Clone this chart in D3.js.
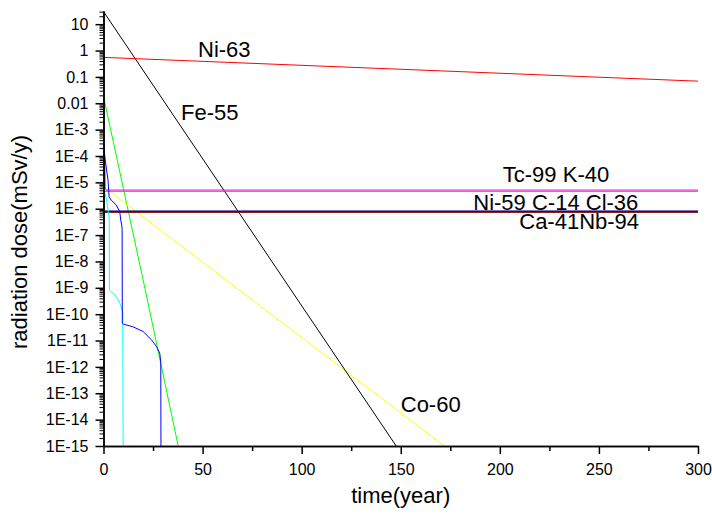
<!DOCTYPE html>
<head>
<meta charset="utf-8">
</head>
<style>
  body { margin: 0; background: #fff; }
  svg { font-family: Arial, "Liberation Sans", sans-serif; }
  .axis path, .axis line { fill: none; stroke: #000; }
  .axis text { font-size: 16px; fill: #000; }
  .label { font-size: 22px; fill: #000; }
  .series { fill: none; stroke-width: 1; }
</style>
<body>
<script src="https://d3js.org/d3.v7.min.js"></script>
<script>

// --- data: [year, dose mSv/y] ---
var fe55 = [[0, 30], [147.7, 1e-15]]
var ni63 = [[0, 0.55], [300, 0.069]]
var unlabeledGreen = [[0, 0.018], [20, 2e-9], [37.7, 1e-15]]
var co60 = [[0, 6.8e-6], [172, 1e-15]]
var tc99 = [[0, 2e-4], [0.6, 7e-5], [0.9, 6e-6], [1.3, 5.1e-6], [300, 5.1e-6]]
var k40 = [[0, 4.6e-6], [300, 4.6e-6]]
var ni59 = [[0, 8.1e-7], [300, 8.1e-7]]
var c14 = [[0, 7.9e-7], [300, 7.9e-7]]
var cl36 = [[0, 8.0e-7], [300, 8.0e-7]]
var nb94 = [[0, 7.5e-7], [300, 7.5e-7]]
var ca41 = [[0, 7.3e-7], [300, 7.3e-7]]
var unlabeledBlue = [[0, 2.5e-4], [0.9, 7e-5], [1.4, 3.5e-5], [2.3, 1.2e-5], [2.8, 2.9e-6],
  [3.9, 2.1e-6], [6.4, 1.4e-6], [8.2, 7.7e-7], [8.7, 3.7e-7], [9.2, 2.4e-7], [9.4, 1.6e-7],
  [9.5, 4.5e-11], [10, 4.2e-11], [15, 3.3e-11], [20, 2.2e-11], [24.3, 1.05e-11],
  [26.8, 5.8e-12], [28.4, 3.3e-12], [28.9, 1.5e-12], [29, 1e-15]]
var unlabeledCyan = [[0, 6e-6], [1.4, 2.5e-6], [2.3, 9e-7], [2.9, 4.4e-7], [3.0, 8.2e-10],
  [4.5, 6.3e-10], [5.8, 5.3e-10], [7.3, 3.6e-10], [8.3, 2.6e-10], [9.2, 1.6e-10],
  [9.7, 1.1e-10], [9.9, 1e-15]]

var xTicks = [0, 50, 100, 150, 200, 250, 300]
var xMinorTicks = [25, 75, 125, 175, 225, 275]
var yTicks = [10, 1, 0.1, 0.01, 1e-3, 1e-4, 1e-5, 1e-6, 1e-7, 1e-8, 1e-9, 1e-10, 1e-11, 1e-12, 1e-13, 1e-14, 1e-15]
var yTickLabels = ["10", "1", "0.1", "0.01", "1E-3", "1E-4", "1E-5", "1E-6", "1E-7", "1E-8", "1E-9",
  "1E-10", "1E-11", "1E-12", "1E-13", "1E-14", "1E-15"]

// text labels placed in data units: [text, year, dose]
var labels = [
  ["Ni-63", 47.7, 0.57],
  ["Fe-55", 39.1, 2.4e-3],
  ["Tc-99 K-40", 201.5, 1.0e-5],
  ["Ni-59 C-14 Cl-36", 186.6, 9.0e-7],
  ["Ca-41Nb-94", 209.8, 1.7e-7],
  ["Co-60", 150, 1.9e-14]
]

// series drawn in this order (later ones on top)
var series = [
  {data: unlabeledGreen, color: "#00ff00"},
  {data: co60, color: "#ffff00"},
  {data: fe55, color: "#000000"},
  {data: ni63, color: "#ff0000"},
  {data: k40, color: "#808000"},
  {data: tc99, color: "#ff00ff"},
  {data: nb94, color: "#808080"},
  {data: cl36, color: "#0000a0"},
  {data: c14, color: "#800080"},
  {data: ni59, color: "#000080"},
  {data: ca41, color: "#800000"},
  {data: unlabeledCyan, color: "#00ffff"},
  {data: unlabeledBlue, color: "#0000ff"}
]

var width = 712, height = 514
var plotLeft = 103.5, plotRight = 698, plotTop = 11, plotBottom = 446

var svg = d3.select("body").append("svg")
    .attr("width", width)
    .attr("height", height)

var x = d3.scaleLinear().domain([0, 300]).range([plotLeft, plotRight])
var y = d3.scaleLog().domain([1e-15, Math.pow(10, 1.5)]).range([plotBottom, plotTop])

svg.append("clipPath").attr("id", "plot")
  .append("rect")
    .attr("x", plotLeft).attr("y", plotTop)
    .attr("width", plotRight - plotLeft).attr("height", plotBottom - plotTop)

var line = d3.line()
    .x(function(d) { return x(d[0]) })
    .y(function(d) { return y(d[1]) })

svg.append("g")
    .attr("clip-path", "url(#plot)")
  .selectAll("path")
    .data(series)
  .enter().append("path")
    .attr("class", "series")
    .attr("stroke", function(d) { return d.color })
    .attr("d", function(d) { return line(d.data) })

// minor ticks of the log axis: 2..9 of every decade
var yMinor = []
d3.range(-15, 2).forEach(function(e) {
  d3.range(2, 10).forEach(function(m) {
    var v = m * Math.pow(10, e)
    if (v <= y.domain()[1]) yMinor.push(v)
  })
})

svg.append("g")
    .attr("class", "axis")
    .attr("transform", "translate(" + plotLeft + ",0)")
    .call(d3.axisLeft(y).tickValues(yMinor).tickSize(4).tickFormat("").tickSizeOuter(0))
    .selectAll("line").attr("stroke-width", 1)

var yAxis = svg.append("g")
    .attr("class", "axis")
    .attr("transform", "translate(" + plotLeft + ",0)")
    .call(d3.axisLeft(y).tickValues(yTicks).tickSize(8).tickPadding(7).tickSizeOuter(0)
      .tickFormat(function(d, i) { return yTickLabels[i] }))
yAxis.selectAll("line").attr("stroke-width", 1.5)

svg.append("g")
    .attr("class", "axis")
    .attr("transform", "translate(0," + plotBottom + ")")
    .call(d3.axisBottom(x).tickValues(xMinorTicks).tickSize(5).tickFormat("").tickSizeOuter(0))
    .selectAll("line").attr("stroke-width", 1.5)

var xAxis = svg.append("g")
    .attr("class", "axis")
    .attr("transform", "translate(0," + plotBottom + ")")
    .call(d3.axisBottom(x).tickValues(xTicks).tickSize(8).tickPadding(9.5).tickSizeOuter(0))
xAxis.selectAll("line").attr("stroke-width", 1.5)

svg.selectAll(".axis .domain").attr("stroke-width", 1.5)

// annotations
svg.selectAll(".label")
    .data(labels)
  .enter().append("text")
    .attr("class", "label")
    .attr("x", function(d) { return x(d[1]) })
    .attr("y", function(d) { return y(d[2]) })
    .text(function(d) { return d[0] })

svg.append("text")
    .attr("class", "label")
    .attr("x", (plotLeft + plotRight) / 2)
    .attr("y", 503)
    .style("text-anchor", "middle")
    .text("time(year)")

svg.append("text")
    .attr("class", "label")
    .attr("transform", "translate(27,242) rotate(-90)")
    .style("text-anchor", "middle")
    .text("radiation dose(mSv/y)")

</script>
</body>
